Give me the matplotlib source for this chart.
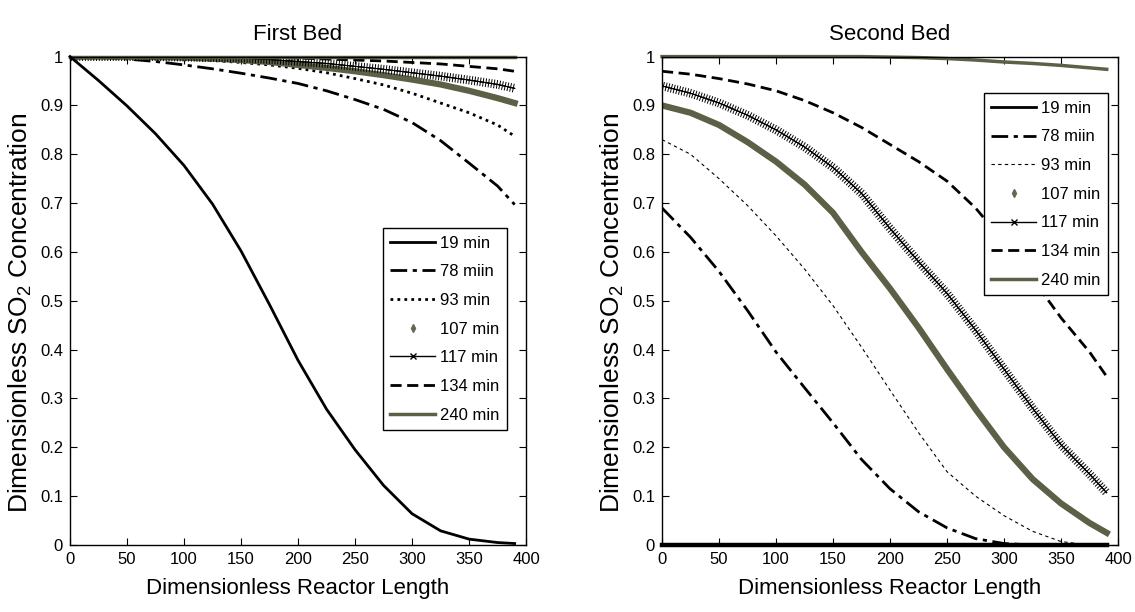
import matplotlib
matplotlib.use("Agg")
import matplotlib.pyplot as plt
from matplotlib.lines import Line2D
from matplotlib import patheffects as pe

plt.rcParams["font.family"] = ["Liberation Sans", "DejaVu Sans"]

# --- data ------------------------------------------------------------------
length = [0, 25, 50, 75, 100, 125, 150, 175, 200, 225, 250, 275, 300, 325, 350, 375, 390]
labels = ["19 min", "78 miin", "93 min", "107 min", "117 min", "134 min", "240 min"]

bed1_19 = [1.0, 0.951, 0.899, 0.842, 0.777, 0.698, 0.602, 0.492, 0.378, 0.278, 0.195, 0.122, 0.064, 0.029, 0.012, 0.005, 0.003]
bed1_78 = [1.0, 0.999, 0.995, 0.99, 0.983, 0.975, 0.966, 0.956, 0.945, 0.93, 0.912, 0.892, 0.865, 0.828, 0.782, 0.735, 0.697]
bed1_93 = [1.0, 1.0, 0.999, 0.997, 0.995, 0.992, 0.988, 0.983, 0.976, 0.967, 0.955, 0.942, 0.925, 0.905, 0.885, 0.86, 0.837]
bed1_107 = [1.0, 1.0, 1.0, 0.999, 0.998, 0.996, 0.993, 0.989, 0.983, 0.977, 0.97, 0.962, 0.953, 0.943, 0.93, 0.915, 0.905]
bed1_117 = [1.0, 1.0, 1.0, 1.0, 0.999, 0.998, 0.997, 0.994, 0.99, 0.986, 0.98, 0.974, 0.967, 0.96, 0.952, 0.943, 0.935]
bed1_134 = [1.0, 1.0, 1.0, 1.0, 1.0, 1.0, 0.999, 0.998, 0.997, 0.995, 0.993, 0.991, 0.988, 0.985, 0.98, 0.975, 0.97]
bed1_240 = [1.0] * 17

bed2_19 = [0.0] * 17
bed2_78 = [0.69, 0.63, 0.56, 0.48, 0.395, 0.322, 0.25, 0.175, 0.115, 0.068, 0.035, 0.013, 0.003, 0.0, 0.0, 0.0, 0.0]
bed2_93 = [0.83, 0.8, 0.75, 0.695, 0.633, 0.565, 0.49, 0.405, 0.317, 0.23, 0.15, 0.1, 0.06, 0.028, 0.007, 0.0, 0.0]
bed2_107 = [0.9, 0.885, 0.86, 0.825, 0.785, 0.738, 0.68, 0.6, 0.525, 0.445, 0.36, 0.278, 0.2, 0.135, 0.085, 0.045, 0.025]
bed2_117 = [0.94, 0.925, 0.905, 0.88, 0.85, 0.815, 0.773, 0.72, 0.648, 0.58, 0.515, 0.44, 0.36, 0.28, 0.205, 0.145, 0.107]
bed2_134 = [0.97, 0.964, 0.955, 0.944, 0.93, 0.91, 0.885, 0.855, 0.82, 0.785, 0.745, 0.69, 0.62, 0.545, 0.465, 0.395, 0.345]
bed2_240 = [1.0, 1.0, 1.0, 1.0, 1.0, 1.0, 1.0, 1.0, 0.999, 0.998, 0.996, 0.993, 0.989, 0.986, 0.982, 0.977, 0.974]

OLIVE = "#5e5f47"
DASHDOT = (0, (6, 2, 1.5, 2))
hatch = [pe.withTickedStroke(angle=90, spacing=2.0, length=1.4),
         pe.withTickedStroke(angle=-90, spacing=2.0, length=1.4), pe.Normal()]


def draw_bed(ax, series, second):
    c19, c78, c93, c107, c117, c134, c240 = series
    ax.plot(length, c19, color="k", lw=3.2 if second else 2.0, clip_on=False, zorder=3)
    ax.plot(length, c78, color="k", lw=2, ls=DASHDOT)
    if second:
        ax.plot(length, c93, color="k", lw=0.8, ls=(0, (3, 3)))
    else:
        ax.plot(length, c93, color="k", lw=2, ls=(0, (1, 1.5)))
    ax.plot(length, c107, color=OLIVE, lw=4.5)
    ax.plot(length, c117, color="k", lw=0.7, path_effects=hatch)
    ax.plot(length, c134, color="k", lw=2, ls=(0, (4, 2)))
    ax.plot(length, c240, color=OLIVE, lw=2.5, clip_on=False)

    handles = [
        Line2D([], [], color="k", lw=2),
        Line2D([], [], color="k", lw=2, ls=DASHDOT),
        Line2D([], [], color="k", lw=0.8, ls=(0, (3, 3))) if second
        else Line2D([], [], color="k", lw=2, ls=(0, (1, 1.5))),
        Line2D([], [], color="#666655", ls="none", marker="d", ms=4),
        Line2D([], [], color="k", lw=1, marker="x", ms=5),
        Line2D([], [], color="k", lw=2, ls=(0, (4, 2))),
        Line2D([], [], color=OLIVE, lw=2.5),
    ]
    return handles


def style(ax, title):
    ax.set_xlim(0, 400)
    ax.set_ylim(0, 1)
    ax.set_xticks(range(0, 401, 50))
    ax.set_yticks([i / 10 for i in range(11)])
    ax.set_yticklabels(["%g" % (i / 10) for i in range(11)])
    ax.tick_params(direction="in", top=True, right=True, length=5, labelsize=12, pad=5)
    for s in ax.spines.values():
        s.set_linewidth(1.0)
    ax.set_title(title, fontsize=16, pad=12)
    ax.set_xlabel("Dimensionless Reactor Length", fontsize=16, labelpad=8)
    ax.set_ylabel(r"Dimensionless SO$_{\mathregular{2}}$ Concentration", fontsize=19)
    ax.yaxis.set_label_coords(-0.078, 0.475)


fig = plt.figure(figsize=(11.35, 6.12), dpi=100)
ax1 = fig.add_axes([0.0617, 0.1095, 0.4018, 0.798])
ax2 = fig.add_axes([0.5833, 0.1095, 0.4018, 0.798])

h1 = draw_bed(ax1, [bed1_19, bed1_78, bed1_93, bed1_107, bed1_117, bed1_134, bed1_240], False)
h2 = draw_bed(ax2, [bed2_19, bed2_78, bed2_93, bed2_107, bed2_117, bed2_134, bed2_240], True)
style(ax1, "First Bed")
style(ax2, "Second Bed")

for ax, h, anchor in [(ax1, h1, (0.958, 0.649)), (ax2, h2, (0.978, 0.925))]:
    leg = ax.legend(h, labels, loc="upper right", bbox_to_anchor=anchor, borderaxespad=0,
                    fontsize=12, handlelength=2.7, handletextpad=0.3, labelspacing=0.82,
                    numpoints=1, fancybox=False, framealpha=1, edgecolor="k",
                    borderpad=0.45)
    leg.get_frame().set_linewidth(1.0)

fig.savefig("out.png", dpi=100)
